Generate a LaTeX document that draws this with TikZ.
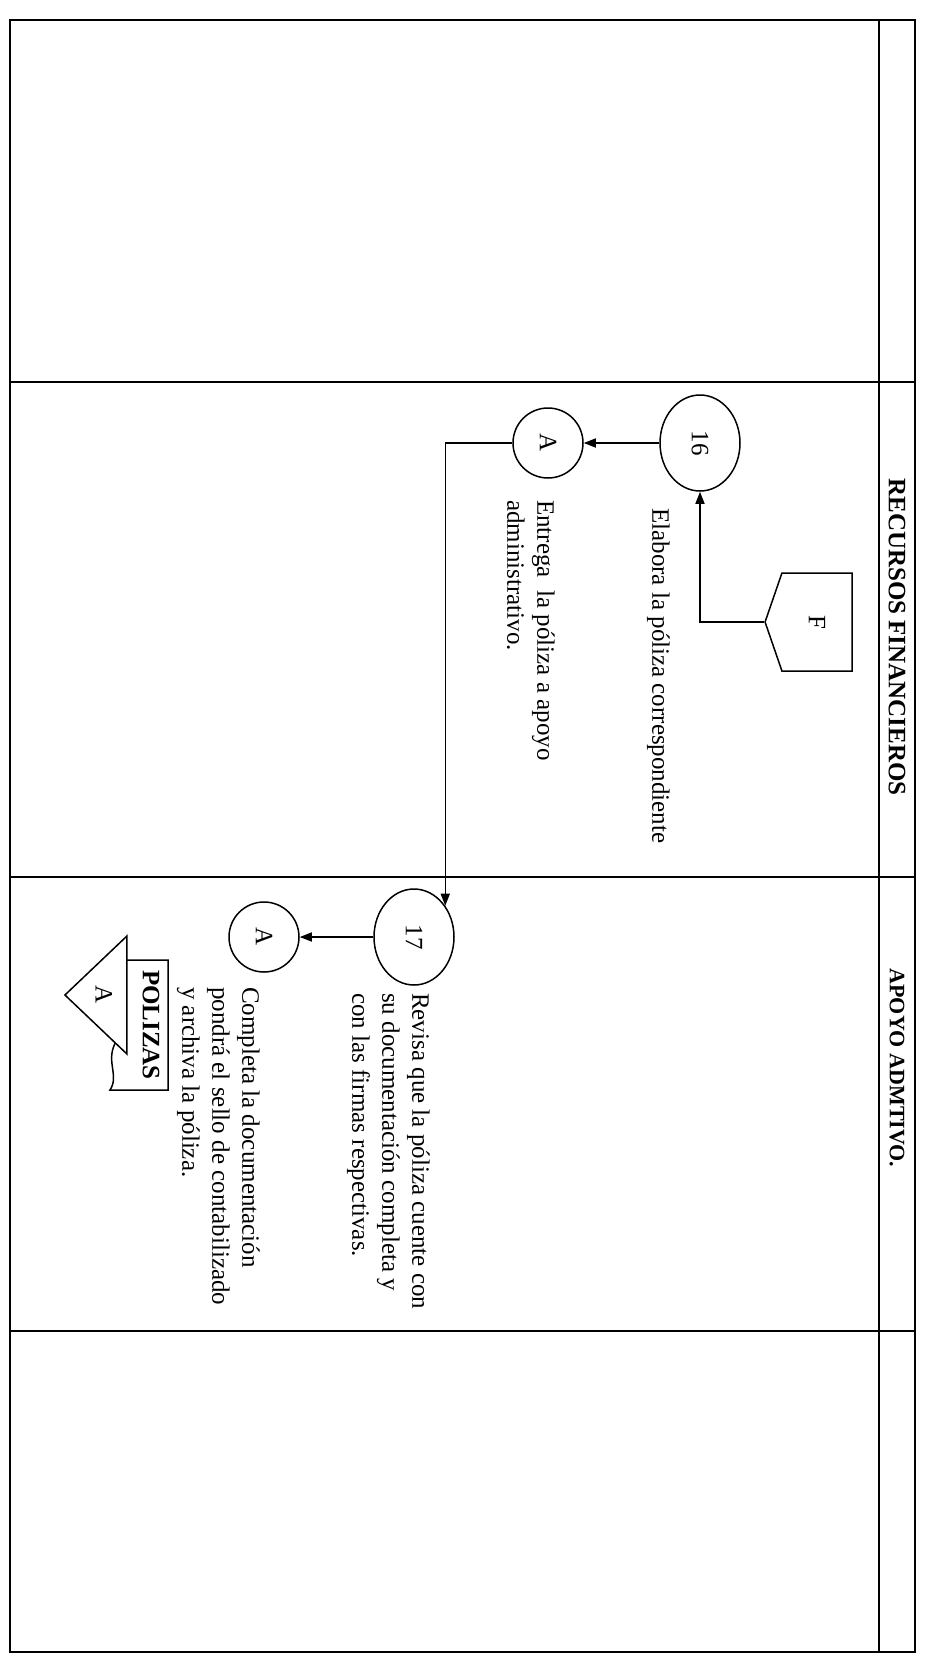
\documentclass[tikz,border=0pt]{standalone}
\usepackage{fontspec}
\setmainfont{Liberation Serif}
\usepackage{tikz}
\usetikzlibrary{positioning,arrows.meta,shapes.geometric,shapes.symbols,calc}
\tikzset{
  proc/.style={ellipse, draw=black, line width=1.5pt, minimum width=80pt, minimum height=96pt, inner sep=0pt},
  conn/.style={circle, draw=black, line width=1.5pt, minimum size=70pt, inner sep=0pt},
  offp/.style={signal, signal to=west, signal pointer angle=142, draw=black, line width=1.5pt, minimum width=87pt, minimum height=98pt, inner sep=0pt},
  arch/.style={isosceles triangle, isosceles triangle stretches, shape border rotate=180, draw=black, fill=white, line width=1.5pt, minimum width=118pt, minimum height=62pt, inner sep=0pt},
  edge/.style={-{Triangle[length=12pt,width=9pt]}, line width=1.5pt},
  desc/.style={rotate=-90, anchor=north west, align=left, inner sep=0pt, font=\fontsize{25}{30}\selectfont},
  lane/.style={rotate=-90, inner sep=0pt, font=\fontsize{25}{30}\selectfont\bfseries},
  frame/.style={line width=2.4pt},
}
\newcommand{\rt}[1]{\rotatebox{-90}{#1}}
\begin{document}
\begin{tikzpicture}[x=1pt, y=-1pt, font=\fontsize{25}{30}\selectfont]
  \useasboundingbox (0,0) rectangle (926,1663);
  % frame and lanes
  \draw[frame] (10,20) rectangle (915,1652);
  \draw[frame] (879,20) -- (879,1652);
  \foreach \yy in {382,877,1331}
    \draw[frame] (10,\yy) -- (915,\yy);
  \node[lane] (h1) at (897,637)  {RECURSOS FINANCIEROS};
  \node[lane, font=\fontsize{22}{26}\selectfont\bfseries] (h2) at (897,1068) {APOYO ADMTIVO.};

  % recursos financieros
  \node[offp] (F)   at (817,622) {\rt{F}};
  \node[proc] (c16) at (700,443) {\rt{16}};
  \node[conn] (a1)  at (548,443) {\rt{A}};
  \node[desc] at (670,508) {Elabora la póliza correspondiente};
  \node[desc] at (555,500) {Entrega\ \ la póliza a apoyo\\administrativo.};

  % apoyo admtivo.
  \node[proc] (c17) at (414,937) {\rt{17}};
  \node[conn] (a2)  at (264,937) {\rt{A}};
  \node[desc] at (430,993) {Revisa que la póliza cuente con\\su documentación completa y\\con las firmas respectivas.};
  \node[desc] at (260,987) {Completa la documentación\\pondrá el sello de contabilizado\\y archiva la póliza.};
  \draw[line width=1.5pt] (168,960) -- (117,960) -- (117,1040)
    .. controls (104,1060) and (120,1075) .. (110,1090) -- (168,1090) -- cycle;
  \node[lane] (pol) at (151,1025) {POLIZAS};
  \node[arch] (doc) at (104,995) {\rt{A}};

  % connectors
  \draw[edge] (F.west) -| (c16.south);
  \draw[edge] (c16.west) -- (a1.east);
  \draw[edge] (a1.west) -| (c17.45);
  \draw[edge] (c17.west) -- (a2.east);
\end{tikzpicture}
\end{document}
